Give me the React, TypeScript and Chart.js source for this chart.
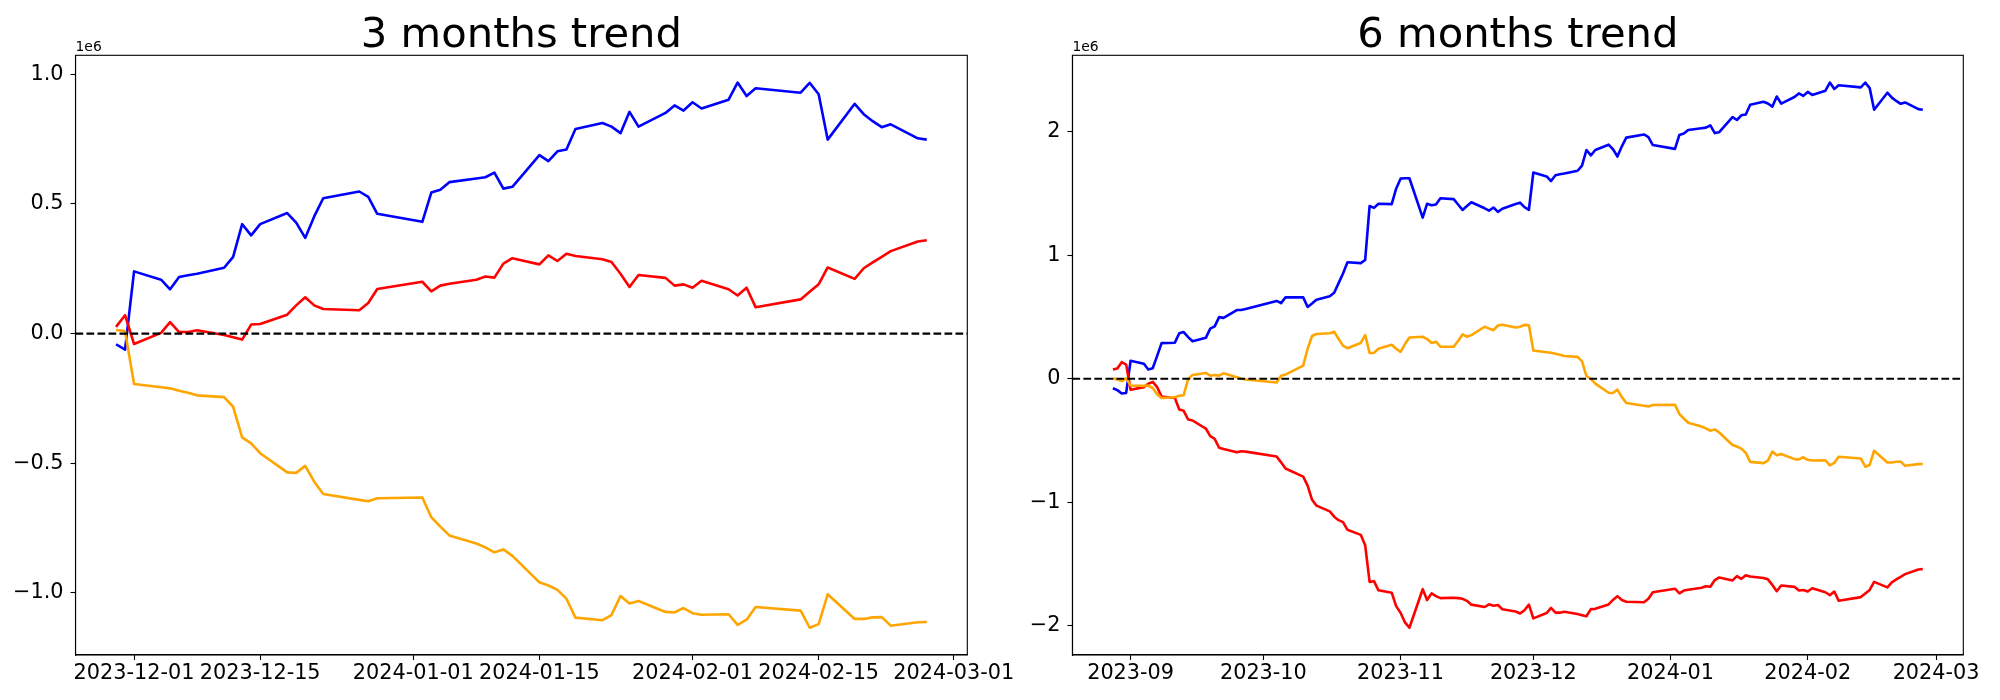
import React, { useEffect, useRef } from 'react';
import { Chart, registerables } from 'chart.js';

Chart.register(...registerables);

// ---------------- data (values in units of 1e6) ----------------
const dates3m = [
  '2023-11-29','2023-11-30','2023-12-01','2023-12-04','2023-12-05','2023-12-06','2023-12-07','2023-12-08',
  '2023-12-11','2023-12-12','2023-12-13','2023-12-14','2023-12-15','2023-12-18','2023-12-19','2023-12-20',
  '2023-12-21','2023-12-22','2023-12-26','2023-12-27','2023-12-28','2024-01-02','2024-01-03','2024-01-04',
  '2024-01-05','2024-01-08','2024-01-09','2024-01-10','2024-01-11','2024-01-12','2024-01-15','2024-01-16',
  '2024-01-17','2024-01-18','2024-01-19','2024-01-22','2024-01-23','2024-01-24','2024-01-25','2024-01-26',
  '2024-01-29','2024-01-30','2024-01-31','2024-02-01','2024-02-02','2024-02-05','2024-02-06','2024-02-07',
  '2024-02-08','2024-02-13','2024-02-14','2024-02-15','2024-02-16','2024-02-19','2024-02-20','2024-02-21',
  '2024-02-22','2024-02-23','2024-02-26','2024-02-27',
];
const blue3m = [
  -0.041,-0.062,0.240,0.208,0.171,0.218,0.225,0.231,0.254,0.296,
  0.422,0.379,0.422,0.465,0.428,0.369,0.452,0.522,0.548,0.527,
  0.462,0.431,0.544,0.555,0.584,0.598,0.603,0.621,0.559,0.566,
  0.688,0.665,0.703,0.710,0.789,0.812,0.798,0.773,0.855,0.798,
  0.851,0.880,0.860,0.892,0.868,0.902,0.968,0.916,0.946,0.929,
  0.967,0.923,0.748,0.886,0.846,0.819,0.796,0.807,0.753,0.748,
];
const red3m = [
  0.026,0.071,-0.040,0.003,0.044,0.006,0.006,0.013,-0.005,-0.014,
  -0.023,0.035,0.037,0.073,0.109,0.140,0.109,0.095,0.090,0.118,
  0.172,0.200,0.163,0.185,0.192,0.208,0.220,0.216,0.270,0.291,
  0.267,0.302,0.280,0.308,0.299,0.287,0.276,0.231,0.180,0.226,
  0.215,0.185,0.190,0.177,0.204,0.171,0.147,0.177,0.102,0.132,
  0.161,0.190,0.255,0.211,0.252,0.275,0.296,0.318,0.355,0.360,
];
const orange3m = [
  0.014,0.010,-0.194,-0.207,-0.211,-0.220,-0.228,-0.238,-0.245,-0.282,
  -0.400,-0.423,-0.461,-0.535,-0.537,-0.510,-0.571,-0.618,-0.641,-0.646,
  -0.635,-0.632,-0.708,-0.744,-0.778,-0.809,-0.824,-0.843,-0.832,-0.857,
  -0.959,-0.971,-0.988,-1.022,-1.095,-1.105,-1.085,-1.012,-1.041,-1.031,
  -1.073,-1.075,-1.058,-1.078,-1.084,-1.082,-1.123,-1.103,-1.054,-1.068,
  -1.134,-1.120,-1.005,-1.100,-1.100,-1.094,-1.093,-1.126,-1.113,-1.112,
];

const datesEarly6m = [
  '2023-08-28','2023-08-29','2023-08-30','2023-08-31','2023-09-01','2023-09-04','2023-09-05','2023-09-06',
  '2023-09-07','2023-09-08','2023-09-11','2023-09-12','2023-09-13','2023-09-14','2023-09-15','2023-09-18',
  '2023-09-19','2023-09-20','2023-09-21','2023-09-22','2023-09-25','2023-09-26','2023-09-27','2023-10-04',
  '2023-10-05','2023-10-06','2023-10-10','2023-10-11','2023-10-12','2023-10-13','2023-10-16','2023-10-17',
  '2023-10-18','2023-10-19','2023-10-20','2023-10-23','2023-10-24','2023-10-25','2023-10-26','2023-10-27',
  '2023-10-30','2023-10-31','2023-11-01','2023-11-02','2023-11-03','2023-11-06','2023-11-07','2023-11-08',
  '2023-11-09','2023-11-10','2023-11-13','2023-11-14','2023-11-15','2023-11-16','2023-11-17','2023-11-20',
  '2023-11-21','2023-11-22','2023-11-23','2023-11-24','2023-11-27','2023-11-28',
];
const dates6m = [...datesEarly6m, ...dates3m];
const blue6m = [
  -0.077,-0.092,-0.119,-0.115,0.146,0.122,0.075,0.085,0.185,0.288,
  0.292,0.368,0.378,0.337,0.303,0.331,0.406,0.424,0.499,0.493,
  0.556,0.556,0.565,0.630,0.612,0.659,0.659,0.581,0.609,0.640,
  0.668,0.696,0.774,0.852,0.943,0.936,0.961,1.398,1.383,1.417,
  1.414,1.539,1.620,1.623,1.623,1.305,1.417,1.405,1.411,1.461,
  1.454,1.411,1.367,1.398,1.429,1.380,1.361,1.386,1.351,1.376,
  1.414,1.426,
  1.389,1.368,1.670,1.638,1.601,1.648,1.655,1.661,1.684,1.726,
  1.852,1.809,1.852,1.895,1.858,1.799,1.882,1.952,1.978,1.957,
  1.892,1.861,1.974,1.985,2.014,2.028,2.033,2.051,1.989,1.996,
  2.118,2.095,2.133,2.140,2.219,2.242,2.228,2.203,2.285,2.228,
  2.281,2.310,2.290,2.322,2.298,2.332,2.398,2.346,2.376,2.359,
  2.397,2.353,2.178,2.316,2.276,2.249,2.226,2.237,2.183,2.178,
];
const red6m = [
  0.075,0.083,0.134,0.115,-0.089,-0.068,-0.040,-0.025,-0.068,-0.145,
  -0.156,-0.249,-0.260,-0.330,-0.338,-0.403,-0.465,-0.487,-0.559,-0.568,
  -0.596,-0.587,-0.590,-0.630,-0.677,-0.727,-0.793,-0.865,-0.980,-1.027,
  -1.074,-1.117,-1.145,-1.161,-1.223,-1.264,-1.348,-1.645,-1.639,-1.713,
  -1.732,-1.841,-1.895,-1.973,-2.016,-1.704,-1.792,-1.738,-1.760,-1.776,
  -1.773,-1.776,-1.782,-1.798,-1.829,-1.848,-1.826,-1.838,-1.832,-1.866,
  -1.885,-1.901,
  -1.874,-1.829,-1.940,-1.897,-1.856,-1.894,-1.894,-1.887,-1.905,-1.914,
  -1.923,-1.865,-1.863,-1.827,-1.791,-1.760,-1.791,-1.805,-1.810,-1.782,
  -1.728,-1.700,-1.737,-1.715,-1.708,-1.692,-1.680,-1.684,-1.630,-1.609,
  -1.633,-1.598,-1.620,-1.592,-1.601,-1.613,-1.624,-1.669,-1.720,-1.674,
  -1.685,-1.715,-1.710,-1.723,-1.696,-1.729,-1.753,-1.723,-1.798,-1.768,
  -1.739,-1.710,-1.645,-1.689,-1.648,-1.625,-1.604,-1.582,-1.545,-1.540,
];
const orange6m = [
  0.003,-0.006,-0.019,0.003,-0.055,-0.058,-0.055,-0.075,-0.126,-0.156,
  -0.150,-0.137,-0.133,-0.003,0.031,0.047,0.025,0.031,0.025,0.044,
  0.012,0.000,-0.006,-0.031,0.025,0.034,0.106,0.243,0.346,0.362,
  0.368,0.381,0.321,0.268,0.247,0.290,0.353,0.209,0.209,0.243,
  0.275,0.243,0.218,0.281,0.334,0.340,0.321,0.290,0.300,0.259,
  0.259,0.306,0.359,0.340,0.353,0.421,0.406,0.393,0.431,0.437,
  0.415,0.421,
  0.436,0.432,0.228,0.215,0.211,0.202,0.194,0.184,0.177,0.140,
  0.022,-0.001,-0.039,-0.113,-0.115,-0.088,-0.149,-0.196,-0.219,-0.224,
  -0.213,-0.210,-0.286,-0.322,-0.356,-0.387,-0.402,-0.421,-0.410,-0.435,
  -0.537,-0.549,-0.566,-0.600,-0.673,-0.683,-0.663,-0.590,-0.619,-0.609,
  -0.651,-0.653,-0.636,-0.656,-0.662,-0.660,-0.701,-0.681,-0.632,-0.646,
  -0.712,-0.698,-0.583,-0.678,-0.678,-0.672,-0.671,-0.704,-0.691,-0.690,
];

const xTicks3m = ['2023-12-01','2023-12-15','2024-01-01','2024-01-15','2024-02-01','2024-02-15','2024-03-01'];
const xTickLabels3m = ['2023-12-01','2023-12-15','2024-01-01','2024-01-15','2024-02-01','2024-02-15','2024-03-01'];
const xTicks6m = ['2023-09-01','2023-10-01','2023-11-01','2023-12-01','2024-01-01','2024-02-01','2024-03-01'];
const xTickLabels6m = ['2023-09','2023-10','2023-11','2023-12','2024-01','2024-02','2024-03'];
const yTicks3m = [-1.0, -0.5, 0.0, 0.5, 1.0];
const yTickLabels3m = ['\u22121.0', '\u22120.5', '0.0', '0.5', '1.0'];
const yTicks6m = [-2, -1, 0, 1, 2];
const yTickLabels6m = ['\u22122', '\u22121', '0', '1', '2'];

const SCALE = 1e6;
const OFFSET_LABEL = '1e6';
const titles = ['3 months trend', '6 months trend'];

// ---------------- helpers ----------------
const FONT = '"DejaVu Sans", "Liberation Sans", sans-serif';
const dayNum = (s: string) =>
  Date.UTC(+s.slice(0, 4), +s.slice(5, 7) - 1, +s.slice(8, 10)) / 86400000;

function margins(vals: number[]) {
  const mn = Math.min(...vals);
  const mx = Math.max(...vals);
  const m = (mx - mn) * 0.05;
  return [mn - m, mx + m];
}

type Panel = {
  dates: string[];
  series: { values: number[]; color: string }[];
  xTicks: string[];
  xTickLabels: string[];
  yTicks: number[];
  yTickLabels: string[];
  title: string;
  yAxisWidth: number;
  padRight: number;
  canvasWidth: number;
};

function buildConfig(p: Panel): any {
  const xs = p.dates.map(dayNum);
  const [xMin, xMax] = margins(xs);
  const all = p.series.flatMap((s) => s.values);
  const [yMin, yMax] = margins(all);
  const lineW = 2.6;

  const seriesSets = p.series.map((s) => ({
    data: xs.map((x, i) => ({ x, y: s.values[i] * SCALE })),
    borderColor: s.color,
    backgroundColor: s.color,
    borderWidth: lineW,
    pointRadius: 0,
    tension: 0,
    fill: false,
    borderJoinStyle: 'round',
  }));
  const zeroSet = {
    data: [
      { x: xMin, y: 0 },
      { x: xMax, y: 0 },
    ],
    borderColor: '#000000',
    borderWidth: 2.2,
    borderDash: [7.7, 3.3],
    pointRadius: 0,
    fill: false,
  };
  // dataset index 0 is drawn on top in Chart.js
  const datasets = [zeroSet, ...seriesSets.slice().reverse()];

  const tickFont = { family: FONT, size: 20.8 };

  const framePlugin = {
    id: 'frameAndTitle',
    afterDraw(chart: any) {
      const { ctx, chartArea: a } = chart;
      ctx.save();
      ctx.strokeStyle = '#000';
      ctx.lineWidth = 1.1;
      ctx.strokeRect(a.left, a.top, a.right - a.left, a.bottom - a.top);
      ctx.fillStyle = '#000';
      ctx.textAlign = 'center';
      ctx.textBaseline = 'alphabetic';
      ctx.font = `41.7px ${FONT}`;
      ctx.fillText(p.title, (a.left + a.right) / 2, 47);
      ctx.textAlign = 'left';
      ctx.font = `13.9px ${FONT}`;
      ctx.fillText(OFFSET_LABEL, a.left, 51);
      ctx.restore();
    },
  };

  return {
    type: 'line',
    data: { datasets },
    plugins: [framePlugin],
    options: {
      responsive: false,
      animation: false,
      events: [],
      parsing: false,
      layout: { padding: { left: 0, right: p.padRight, top: 55.3, bottom: 0 } },
      plugins: { legend: { display: false }, tooltip: { enabled: false }, title: { display: false } },
      scales: {
        x: {
          type: 'linear',
          min: xMin,
          max: xMax,
          afterBuildTicks: (s: any) => {
            s.ticks = p.xTicks.map((d) => ({ value: dayNum(d) }));
          },
          afterFit: (s: any) => {
            s.height = 45;
            s.paddingLeft = 0;
            s.paddingRight = 0;
          },
          ticks: {
            autoSkip: false,
            maxRotation: 0,
            minRotation: 0,
            padding: 1,
            color: '#000',
            font: tickFont,
            callback: (_v: any, i: number) => p.xTickLabels[i],
          },
          grid: {
            drawOnChartArea: false,
            drawTicks: true,
            tickLength: 5,
            tickColor: '#000',
            tickWidth: 1.1,
          },
          border: { display: true, color: '#000', width: 1.1 },
        },
        y: {
          type: 'linear',
          min: yMin * SCALE,
          max: yMax * SCALE,
          afterBuildTicks: (s: any) => {
            s.ticks = p.yTicks.map((v) => ({ value: v * SCALE }));
          },
          afterFit: (s: any) => {
            s.width = p.yAxisWidth;
            s.paddingTop = 0;
            s.paddingBottom = 0;
          },
          ticks: {
            padding: 7,
            color: '#000',
            font: tickFont,
            callback: (_v: any, i: number) => p.yTickLabels[i],
          },
          grid: {
            drawOnChartArea: false,
            drawTicks: true,
            tickLength: 5,
            tickColor: '#000',
            tickWidth: 1.1,
          },
          border: { display: true, color: '#000', width: 1.1 },
        },
      },
    },
  };
}

const panels: Panel[] = [
  {
    dates: dates3m,
    series: [
      { values: blue3m, color: '#0000ff' },
      { values: red3m, color: '#ff0000' },
      { values: orange3m, color: '#ffa500' },
    ],
    xTicks: xTicks3m,
    xTickLabels: xTickLabels3m,
    yTicks: yTicks3m,
    yTickLabels: yTickLabels3m,
    title: titles[0],
    yAxisWidth: 75.5,
    padRight: 1040 - 967.3,
    canvasWidth: 1040,
  },
  {
    dates: dates6m,
    series: [
      { values: blue6m, color: '#0000ff' },
      { values: red6m, color: '#ff0000' },
      { values: orange6m, color: '#ffa500' },
    ],
    xTicks: xTicks6m,
    xTickLabels: xTickLabels6m,
    yTicks: yTicks6m,
    yTickLabels: yTickLabels6m,
    title: titles[1],
    yAxisWidth: 72.4,
    padRight: 36.7,
    canvasWidth: 1000,
  },
];

function ChartPanel({ panel, left }: { panel: Panel; left: number }) {
  const ref = useRef<HTMLCanvasElement>(null);
  useEffect(() => {
    const chart = new Chart(ref.current as HTMLCanvasElement, buildConfig(panel));
    return () => chart.destroy();
  }, [panel]);
  return (
    <canvas
      ref={ref}
      width={panel.canvasWidth}
      height={700}
      style={{ position: 'absolute', left, top: 0, width: panel.canvasWidth, height: 700 }}
    />
  );
}

export default function App() {
  return (
    <div
      style={{
        position: 'fixed',
        left: 0,
        top: 0,
        width: 2000,
        height: 700,
        background: '#ffffff',
        overflow: 'hidden',
      }}
    >
      <ChartPanel panel={panels[0]} left={0} />
      <ChartPanel panel={panels[1]} left={1000} />
    </div>
  );
}
